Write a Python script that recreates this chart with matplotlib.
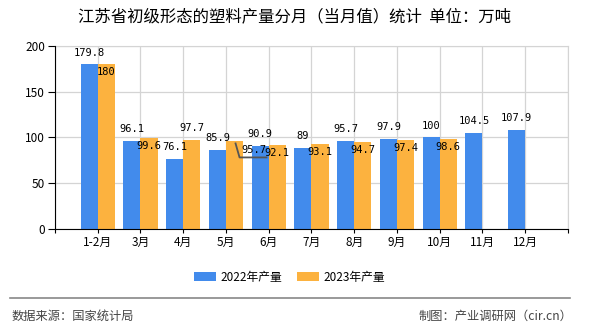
import matplotlib
matplotlib.use('Agg')
import matplotlib.pyplot as plt
import matplotlib.transforms as mtransforms
import numpy as np

plt.rcParams['font.family'] = ['Noto Sans CJK SC', 'DejaVu Sans']

months = ['1-2月', '3月', '4月', '5月', '6月', '7月', '8月', '9月', '10月', '11月', '12月']
output_2022 = [179.8, 96.1, 76.1, 85.9, 90.9, 89, 95.7, 97.9, 100, 104.5, 107.9]
output_2023 = [180, 99.6, 97.7, 95.7, 92.1, 93.1, 94.7, 97.4, 98.6]
labels_2022 = ['179.8', '96.1', '76.1', '85.9', '90.9', '89', '95.7', '97.9', '100', '104.5', '107.9']
labels_2023 = ['180', '99.6', '97.7', '95.7', '92.1', '93.1', '94.7', '97.4', '98.6']

blue = '#428bec'
orange = '#fcb23f'
bw = 0.4

fig = plt.figure(figsize=(5.9, 3.3), dpi=100)
ax = fig.add_axes([0.0932, 0.3061, 0.8695, 0.5545])

x22 = np.arange(len(output_2022))
x23 = np.arange(len(output_2023))
ax.bar(x22 - bw / 2, output_2022, width=bw, color=blue, zorder=3, label='2022年产量')
ax.bar(x23 + bw / 2, output_2023, width=bw, color=orange, zorder=3, label='2023年产量')

ax.set_xlim(-1, len(months))
ax.set_ylim(0, 200)
ax.set_yticks([0, 50, 100, 150, 200])
ax.set_xticks(np.arange(-1, len(months) + 1))
ax.set_xticklabels([''] + months + [''])
ax.tick_params(axis='x', length=3, pad=2, labelsize=8.5, colors='black')
ax.tick_params(axis='y', length=5, pad=2, labelsize=8.5, colors='black')
ax.grid(True, color='#d4d4d4', lw=0.9, zorder=0)
for side in ['top', 'right']:
    ax.spines[side].set_color('#d4d4d4')
for side in ['left', 'bottom']:
    ax.spines[side].set_color('black')
    ax.spines[side].set_zorder(4)

num_font = dict(family='DejaVu Sans Mono', fontsize=7.5, color='black', zorder=5)
for xi, v, s in zip(x22, output_2022, labels_2022):
    ax.annotate(s, (xi - bw / 2, v), xytext=(0, 5), textcoords='offset points',
                ha='center', va='bottom', **num_font)
for xi, v, s in zip(x23, output_2023, labels_2023):
    if s == '97.7':
        # label moved above the bar to dodge the 76.1 label
        ax.annotate(s, (xi + bw / 2, v), xytext=(0, 5), textcoords='offset points',
                    ha='center', va='bottom', **num_font)
    elif s == '95.7':
        # this one got pushed aside with a leader line
        ax.annotate(s, (xi + bw / 2, v), xytext=(14, -6.5), textcoords='offset points',
                    ha='center', va='center', **num_font)
        base = ax.transData.transform((xi + bw / 2, v))
        pts = np.array([[1, -2], [5, -16], [32, -16]]) + base
        ax.plot(pts[:, 0], pts[:, 1], color='#555555', lw=1.3,
                transform=mtransforms.IdentityTransform(), zorder=5)
    else:
        ax.annotate(s, (xi + bw / 2, v), xytext=(0, -2), textcoords='offset points',
                    ha='center', va='top', **num_font)

fig.text(0.5, 0.948, '江苏省初级形态的塑料产量分月（当月值）统计  单位：万吨',
         ha='center', va='center', fontsize=11.8, color='black')

ax.legend(loc='center', bbox_to_anchor=((0.491 - 0.0932) / 0.8695, (0.1606 - 0.3061) / 0.5545),
          ncol=2, frameon=False, fontsize=8.5, handlelength=1.85, handleheight=0.75,
          handletextpad=0.35, columnspacing=1.3, borderaxespad=0)

fig.add_artist(plt.Line2D([10 / 590, 570 / 590], [1 - 298 / 330] * 2, color='#888888', lw=1.2))
fig.text(12 / 590, 1 - 316 / 330, '数据来源：国家统计局', ha='left', va='center',
         fontsize=8.8, color='#444444')
fig.text(572 / 590, 1 - 316 / 330, '制图：产业调研网（cir.cn）', ha='right', va='center',
         fontsize=8.8, color='#444444')

fig.savefig('out.png', dpi=100)
